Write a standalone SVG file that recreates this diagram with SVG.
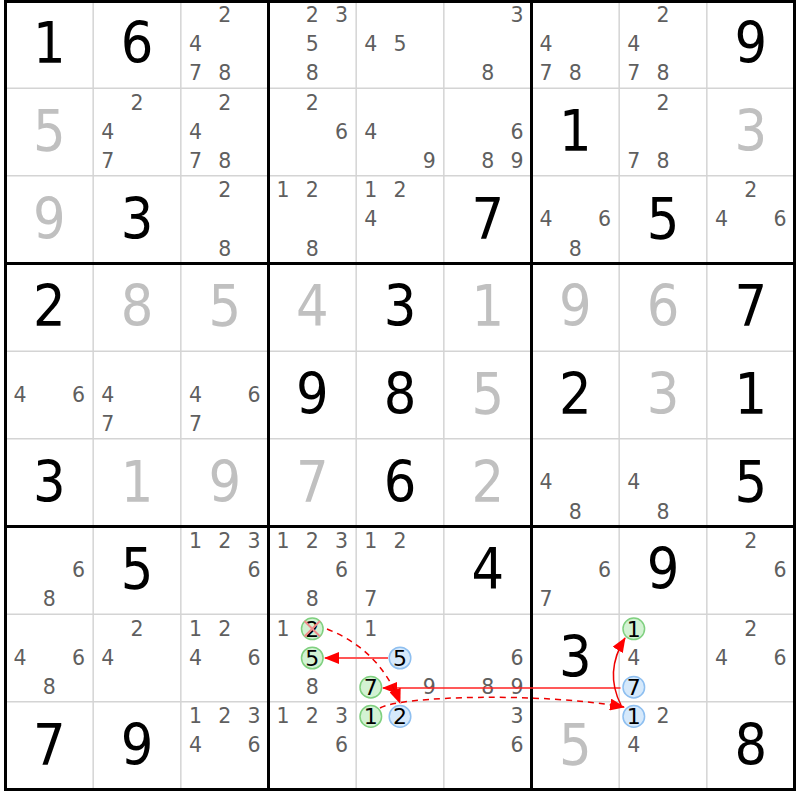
<svg xmlns="http://www.w3.org/2000/svg" width="800" height="800" viewBox="0 0 800 800">
<style>
text{font-family:"DejaVu Sans","Noto Sans",sans-serif;text-anchor:middle}
.g{font-size:57px;fill:#000;font-family:"DejaVu Sans Condensed","DejaVu Sans",sans-serif;font-stretch:condensed}
.s{font-size:57px;fill:#c0c0c0;font-family:"DejaVu Sans Condensed","DejaVu Sans",sans-serif;font-stretch:condensed}
.c{font-size:20.5px;fill:#5f5f5f}
.k{font-size:22px;fill:#000}
.hg{fill:#d3f2d3;stroke:#7fd07f;stroke-width:1.5}
.hb{fill:#d6e9fb;stroke:#8ebff0;stroke-width:1.5}
.thin{stroke:#d4d4d4;stroke-width:1.5}
.thick{stroke:#000;stroke-width:3}
.x{stroke:#f08a8a;stroke-width:2}
</style>
<defs>
<marker id="ah" viewBox="0 0 15 12" refX="14" refY="6" markerWidth="15" markerHeight="12" markerUnits="userSpaceOnUse" orient="auto">
<path d="M0,0 L15,6 L0,12 Z" fill="#ff0000"/>
</marker>
</defs>
<rect x="0" y="0" width="800" height="800" fill="#fff"/>
<g id="grid">
<g class="thin">
<line x1="93.17" y1="0.5" x2="93.17" y2="789.5"/>
<line x1="180.83" y1="0.5" x2="180.83" y2="789.5"/>
<line x1="356.17" y1="0.5" x2="356.17" y2="789.5"/>
<line x1="443.83" y1="0.5" x2="443.83" y2="789.5"/>
<line x1="619.17" y1="0.5" x2="619.17" y2="789.5"/>
<line x1="706.83" y1="0.5" x2="706.83" y2="789.5"/>
<line x1="5.5" y1="88.17" x2="794.5" y2="88.17"/>
<line x1="5.5" y1="175.83" x2="794.5" y2="175.83"/>
<line x1="5.5" y1="351.17" x2="794.5" y2="351.17"/>
<line x1="5.5" y1="438.83" x2="794.5" y2="438.83"/>
<line x1="5.5" y1="614.17" x2="794.5" y2="614.17"/>
<line x1="5.5" y1="701.83" x2="794.5" y2="701.83"/>
</g>
<g class="thick">
<line x1="268.5" y1="0.5" x2="268.5" y2="789.5"/>
<line x1="531.5" y1="0.5" x2="531.5" y2="789.5"/>
<line x1="5.5" y1="263.5" x2="794.5" y2="263.5"/>
<line x1="5.5" y1="526.5" x2="794.5" y2="526.5"/>
<rect x="5.5" y="1.5" width="789" height="788" fill="none"/>
</g>
</g>
<g id="r0c0"><text class="g" x="49.3" y="63.1">1</text></g>
<g id="r0c1"><text class="g" x="137" y="63.1">6</text></g>
<g id="r0c2"><text class="c" x="224.7" y="21.9">2</text><text class="c" x="195.4" y="51.1">4</text><text class="c" x="195.4" y="80.4">7</text><text class="c" x="224.7" y="80.4">8</text></g>
<g id="r0c3"><text class="c" x="312.3" y="21.9">2</text><text class="c" x="341.6" y="21.9">3</text><text class="c" x="312.3" y="51.1">5</text><text class="c" x="312.3" y="80.4">8</text></g>
<g id="r0c4"><text class="c" x="370.8" y="51.1">4</text><text class="c" x="400" y="51.1">5</text></g>
<g id="r0c5"><text class="c" x="516.9" y="21.9">3</text><text class="c" x="487.7" y="80.4">8</text></g>
<g id="r0c6"><text class="c" x="546.1" y="51.1">4</text><text class="c" x="546.1" y="80.4">7</text><text class="c" x="575.3" y="80.4">8</text></g>
<g id="r0c7"><text class="c" x="663" y="21.9">2</text><text class="c" x="633.8" y="51.1">4</text><text class="c" x="633.8" y="80.4">7</text><text class="c" x="663" y="80.4">8</text></g>
<g id="r0c8"><text class="g" x="750.7" y="63.1">9</text></g>
<g id="r1c0"><text class="s" x="49.3" y="150.8">5</text></g>
<g id="r1c1"><text class="c" x="137" y="109.6">2</text><text class="c" x="107.8" y="138.8">4</text><text class="c" x="107.8" y="168.1">7</text></g>
<g id="r1c2"><text class="c" x="224.7" y="109.6">2</text><text class="c" x="195.4" y="138.8">4</text><text class="c" x="195.4" y="168.1">7</text><text class="c" x="224.7" y="168.1">8</text></g>
<g id="r1c3"><text class="c" x="312.3" y="109.6">2</text><text class="c" x="341.6" y="138.8">6</text></g>
<g id="r1c4"><text class="c" x="370.8" y="138.8">4</text><text class="c" x="429.2" y="168.1">9</text></g>
<g id="r1c5"><text class="c" x="516.9" y="138.8">6</text><text class="c" x="487.7" y="168.1">8</text><text class="c" x="516.9" y="168.1">9</text></g>
<g id="r1c6"><text class="g" x="575.3" y="150.8">1</text></g>
<g id="r1c7"><text class="c" x="663" y="109.6">2</text><text class="c" x="633.8" y="168.1">7</text><text class="c" x="663" y="168.1">8</text></g>
<g id="r1c8"><text class="s" x="750.7" y="150.8">3</text></g>
<g id="r2c0"><text class="s" x="49.3" y="238.5">9</text></g>
<g id="r2c1"><text class="g" x="137" y="238.5">3</text></g>
<g id="r2c2"><text class="c" x="224.7" y="197.2">2</text><text class="c" x="224.7" y="255.7">8</text></g>
<g id="r2c3"><text class="c" x="283.1" y="197.2">1</text><text class="c" x="312.3" y="197.2">2</text><text class="c" x="312.3" y="255.7">8</text></g>
<g id="r2c4"><text class="c" x="370.8" y="197.2">1</text><text class="c" x="400" y="197.2">2</text><text class="c" x="370.8" y="226.4">4</text></g>
<g id="r2c5"><text class="g" x="487.7" y="238.5">7</text></g>
<g id="r2c6"><text class="c" x="546.1" y="226.4">4</text><text class="c" x="604.6" y="226.4">6</text><text class="c" x="575.3" y="255.7">8</text></g>
<g id="r2c7"><text class="g" x="663" y="238.5">5</text></g>
<g id="r2c8"><text class="c" x="750.7" y="197.2">2</text><text class="c" x="721.4" y="226.4">4</text><text class="c" x="779.9" y="226.4">6</text></g>
<g id="r3c0"><text class="g" x="49.3" y="326.1">2</text></g>
<g id="r3c1"><text class="s" x="137" y="326.1">8</text></g>
<g id="r3c2"><text class="s" x="224.7" y="326.1">5</text></g>
<g id="r3c3"><text class="s" x="312.3" y="326.1">4</text></g>
<g id="r3c4"><text class="g" x="400" y="326.1">3</text></g>
<g id="r3c5"><text class="s" x="487.7" y="326.1">1</text></g>
<g id="r3c6"><text class="s" x="575.3" y="326.1">9</text></g>
<g id="r3c7"><text class="s" x="663" y="326.1">6</text></g>
<g id="r3c8"><text class="g" x="750.7" y="326.1">7</text></g>
<g id="r4c0"><text class="c" x="20.1" y="401.8">4</text><text class="c" x="78.6" y="401.8">6</text></g>
<g id="r4c1"><text class="c" x="107.8" y="401.8">4</text><text class="c" x="107.8" y="431.1">7</text></g>
<g id="r4c2"><text class="c" x="195.4" y="401.8">4</text><text class="c" x="253.9" y="401.8">6</text><text class="c" x="195.4" y="431.1">7</text></g>
<g id="r4c3"><text class="g" x="312.3" y="413.8">9</text></g>
<g id="r4c4"><text class="g" x="400" y="413.8">8</text></g>
<g id="r4c5"><text class="s" x="487.7" y="413.8">5</text></g>
<g id="r4c6"><text class="g" x="575.3" y="413.8">2</text></g>
<g id="r4c7"><text class="s" x="663" y="413.8">3</text></g>
<g id="r4c8"><text class="g" x="750.7" y="413.8">1</text></g>
<g id="r5c0"><text class="g" x="49.3" y="501.5">3</text></g>
<g id="r5c1"><text class="s" x="137" y="501.5">1</text></g>
<g id="r5c2"><text class="s" x="224.7" y="501.5">9</text></g>
<g id="r5c3"><text class="s" x="312.3" y="501.5">7</text></g>
<g id="r5c4"><text class="g" x="400" y="501.5">6</text></g>
<g id="r5c5"><text class="s" x="487.7" y="501.5">2</text></g>
<g id="r5c6"><text class="c" x="546.1" y="489.4">4</text><text class="c" x="575.3" y="518.7">8</text></g>
<g id="r5c7"><text class="c" x="633.8" y="489.4">4</text><text class="c" x="663" y="518.7">8</text></g>
<g id="r5c8"><text class="g" x="750.7" y="501.5">5</text></g>
<g id="r6c0"><text class="c" x="78.6" y="577.1">6</text><text class="c" x="49.3" y="606.4">8</text></g>
<g id="r6c1"><text class="g" x="137" y="589.1">5</text></g>
<g id="r6c2"><text class="c" x="195.4" y="547.9">1</text><text class="c" x="224.7" y="547.9">2</text><text class="c" x="253.9" y="547.9">3</text><text class="c" x="253.9" y="577.1">6</text></g>
<g id="r6c3"><text class="c" x="283.1" y="547.9">1</text><text class="c" x="312.3" y="547.9">2</text><text class="c" x="341.6" y="547.9">3</text><text class="c" x="341.6" y="577.1">6</text><text class="c" x="312.3" y="606.4">8</text></g>
<g id="r6c4"><text class="c" x="370.8" y="547.9">1</text><text class="c" x="400" y="547.9">2</text><text class="c" x="370.8" y="606.4">7</text></g>
<g id="r6c5"><text class="g" x="487.7" y="589.1">4</text></g>
<g id="r6c6"><text class="c" x="604.6" y="577.1">6</text><text class="c" x="546.1" y="606.4">7</text></g>
<g id="r6c7"><text class="g" x="663" y="589.1">9</text></g>
<g id="r6c8"><text class="c" x="750.7" y="547.9">2</text><text class="c" x="779.9" y="577.1">6</text></g>
<g id="r7c0"><text class="c" x="20.1" y="664.8">4</text><text class="c" x="78.6" y="664.8">6</text><text class="c" x="49.3" y="694.1">8</text></g>
<g id="r7c1"><text class="c" x="137" y="635.6">2</text><text class="c" x="107.8" y="664.8">4</text></g>
<g id="r7c2"><text class="c" x="195.4" y="635.6">1</text><text class="c" x="224.7" y="635.6">2</text><text class="c" x="195.4" y="664.8">4</text><text class="c" x="253.9" y="664.8">6</text></g>
<g id="r7c3"><text class="c" x="283.1" y="635.6">1</text>
<circle class="hg" cx="312.3" cy="628.8" r="10.8"/><text class="k" x="312.3" y="636.6">2</text>
<line class="x" x1="304.5" y1="621" x2="320" y2="636.5"/><line class="x" x1="320" y1="621" x2="304.5" y2="636.5"/>
<circle class="hg" cx="312.3" cy="658" r="10.8"/><text class="k" x="312.3" y="665.8">5</text>
<text class="c" x="312.3" y="694.1">8</text></g>
<g id="r7c4"><text class="c" x="370.8" y="635.6">1</text>
<circle class="hb" cx="400" cy="658" r="10.8"/><text class="k" x="400" y="665.8">5</text>
<circle class="hg" cx="370.8" cy="687.2" r="10.8"/><text class="k" x="370.8" y="695.1">7</text>
<text class="c" x="429.2" y="694.1">9</text></g>
<g id="r7c5"><text class="c" x="516.9" y="664.8">6</text><text class="c" x="487.7" y="694.1">8</text><text class="c" x="516.9" y="694.1">9</text></g>
<g id="r7c6"><text class="g" x="575.3" y="676.8">3</text></g>
<g id="r7c7"><circle class="hg" cx="633.8" cy="628.8" r="10.8"/><text class="k" x="633.8" y="636.6">1</text>
<text class="c" x="633.8" y="664.8">4</text>
<circle class="hb" cx="633.8" cy="687.2" r="10.8"/><text class="k" x="633.8" y="695.1">7</text></g>
<g id="r7c8"><text class="c" x="750.7" y="635.6">2</text><text class="c" x="721.4" y="664.8">4</text><text class="c" x="779.9" y="664.8">6</text></g>
<g id="r8c0"><text class="g" x="49.3" y="764.5">7</text></g>
<g id="r8c1"><text class="g" x="137" y="764.5">9</text></g>
<g id="r8c2"><text class="c" x="195.4" y="723.2">1</text><text class="c" x="224.7" y="723.2">2</text><text class="c" x="253.9" y="723.2">3</text><text class="c" x="195.4" y="752.4">4</text><text class="c" x="253.9" y="752.4">6</text></g>
<g id="r8c3"><text class="c" x="283.1" y="723.2">1</text><text class="c" x="312.3" y="723.2">2</text><text class="c" x="341.6" y="723.2">3</text><text class="c" x="341.6" y="752.4">6</text></g>
<g id="r8c4"><circle class="hg" cx="370.8" cy="716.4" r="10.8"/><text class="k" x="370.8" y="724.2">1</text>
<circle class="hb" cx="400" cy="716.4" r="10.8"/><text class="k" x="400" y="724.2">2</text></g>
<g id="r8c5"><text class="c" x="516.9" y="723.2">3</text><text class="c" x="516.9" y="752.4">6</text></g>
<g id="r8c6"><text class="s" x="575.3" y="764.5">5</text></g>
<g id="r8c7"><circle class="hb" cx="633.8" cy="716.4" r="10.8"/><text class="k" x="633.8" y="724.2">1</text>
<text class="c" x="663" y="723.2">2</text><text class="c" x="633.8" y="752.4">4</text></g>
<g id="r8c8"><text class="g" x="750.7" y="764.5">8</text></g>
<g id="connectors" fill="none">
<line x1="388" y1="658" x2="325" y2="658" stroke="#f55" stroke-width="2" marker-end="url(#ah)"/>
<line x1="620.5" y1="688" x2="383" y2="688" stroke="#f22" stroke-width="1.5" marker-end="url(#ah)"/>
<path d="M327,629 Q380,650 400,703" stroke="#e00" stroke-width="1.5" stroke-dasharray="6,5" marker-end="url(#ah)"/>
<path d="M380,708 C400,696 540,692 624,707" stroke="#e00" stroke-width="1.5" stroke-dasharray="6,5" marker-end="url(#ah)"/>
<path d="M621,705 Q604,672 625,638" stroke="#e00" stroke-width="1.5" marker-end="url(#ah)"/>
</g>
</svg>
